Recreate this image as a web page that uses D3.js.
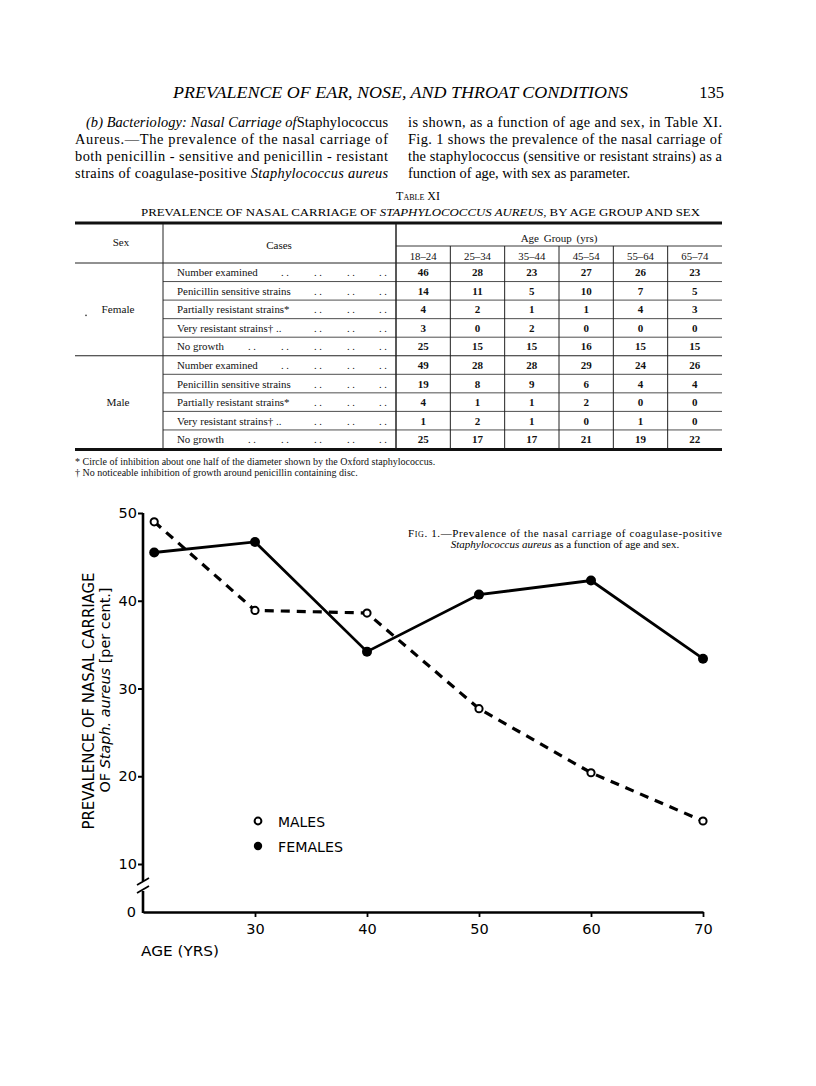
<!DOCTYPE html>
<html><head><meta charset="utf-8">
<script src="https://cdn.jsdelivr.net/npm/d3@7"></script>
<style>
html,body{margin:0;padding:0;background:#fff;}
svg{display:block;}
</style></head>
<body>
<svg id="page" width="816" height="1086"></svg>
<script>
// ---------- DATA ----------
const pageHeader = "PREVALENCE OF EAR, NOSE, AND THROAT CONDITIONS";
const pageNumber = "135";
const ageGroups = ["18–24","25–34","35–44","45–54","55–64","65–74"];
const caseLabels = ["Number examined","Penicillin sensitive strains","Partially resistant strains*","Very resistant strains† ..","No growth"];
const sexes = ["Female","Male"];
const femaleNumberExamined = [46,28,23,27,26,23];
const femaleSensitive = [14,11,5,10,7,5];
const femalePartial = [4,2,1,1,4,3];
const femaleVery = [3,0,2,0,0,0];
const femaleNoGrowth = [25,15,15,16,15,15];
const maleNumberExamined = [49,28,28,29,24,26];
const maleSensitive = [19,8,9,6,4,4];
const malePartial = [4,1,1,2,0,0];
const maleVery = [1,2,1,0,1,0];
const maleNoGrowth = [25,17,17,21,19,22];
const footnotes = ["* Circle of inhibition about one half of the diameter shown by the Oxford staphylococcus.",
                   "† No noticeable inhibition of growth around penicillin containing disc."];

const ages = [21,30,40,50,60,70];
const malesPct = [49.0,38.9,38.6,27.7,20.4,14.9];
const femalesPct = [45.5,46.7,34.2,40.7,42.3,33.4];
const xTicks = [30,40,50,60,70];
const yTicks = [10,20,30,40,50];
const legendLabels = ["MALES","FEMALES"];

// ---------- PAGE ----------
const svg = d3.select("#page");
const serif = "'Liberation Serif','Times New Roman',serif";
const sans = "'DejaVu Sans','Liberation Sans',sans-serif";

// header
svg.append("text").attr("x",173).attr("y",98).attr("font-family",serif).attr("font-style","italic")
  .attr("font-size",16.5).attr("textLength",455).attr("lengthAdjust","spacingAndGlyphs").text(pageHeader);
svg.append("text").attr("x",724).attr("y",98).attr("text-anchor","end").attr("font-family",serif)
  .attr("font-size",16.5).text(pageNumber);

// paragraphs: arrays of segments [text, italic]
const leftLines = [
  [["(b) Bacteriology: Nasal Carriage of",true],["Staphylococcus",false]],
  [["Aureus.—The prevalence of the nasal carriage of",false]],
  [["both penicillin - sensitive and penicillin - resistant",false]],
  [["strains of coagulase-positive ",false],["Staphylococcus aureus",true]]
];
const rightLines = [
  [["is shown, as a function of age and sex, in Table XI.",false]],
  [["Fig. 1 shows the prevalence of the nasal carriage of",false]],
  [["the staphylococcus (sensitive or resistant strains) as a",false]],
  [["function of age, with sex as parameter.",false]]
];
const lineY = [127,144,161,178];
function para(lines, x0, x1, lastJust, indent){
  lines.forEach((segs,i)=>{
    const xs = x0 + (i===0?indent:0);
    const t = svg.append("text").attr("x",xs).attr("y",lineY[i]).attr("font-family",serif).attr("font-size",14.4);
    segs.forEach(s=>{ t.append("tspan").attr("font-style",s[1]?"italic":"normal").text(s[0]); });
    if(i<lines.length-1 || lastJust){ t.attr("textLength",x1-xs).attr("lengthAdjust","spacing"); }
  });
}
para(leftLines,75,388,true,11);
para(rightLines,408,722,false,0);

// table title
svg.append("text").attr("x",418).attr("y",200).attr("text-anchor","middle").attr("font-family",serif)
  .attr("font-size",12).style("font-variant","small-caps").text("Table XI");
const st = svg.append("text").attr("x",141).attr("y",216).attr("font-family",serif).attr("font-size",10.5)
  .attr("textLength",559).attr("lengthAdjust","spacingAndGlyphs");
st.append("tspan").text("PREVALENCE OF NASAL CARRIAGE OF ");
st.append("tspan").attr("font-style","italic").text("STAPHYLOCOCCUS AUREUS");
st.append("tspan").text(", BY AGE GROUP AND SEX");

// table geometry
const tL=75, tR=722, colSex=163, colCases=396;
const colX = d3.scaleBand().domain(ageGroups).range([colCases,tR]);
const rowTop = 263, rowH = 18.55;
const rows = [
  {sex:0,label:caseLabels[0],vals:femaleNumberExamined},
  {sex:0,label:caseLabels[1],vals:femaleSensitive},
  {sex:0,label:caseLabels[2],vals:femalePartial},
  {sex:0,label:caseLabels[3],vals:femaleVery},
  {sex:0,label:caseLabels[4],vals:femaleNoGrowth},
  {sex:1,label:caseLabels[0],vals:maleNumberExamined},
  {sex:1,label:caseLabels[1],vals:maleSensitive},
  {sex:1,label:caseLabels[2],vals:malePartial},
  {sex:1,label:caseLabels[3],vals:maleVery},
  {sex:1,label:caseLabels[4],vals:maleNoGrowth}
];
const rowY = d3.scaleLinear().domain([0,rows.length]).range([rowTop,rowTop+rowH*rows.length]);
const tBottom = rowY(rows.length);
const tab = svg.append("g").attr("stroke","#222").attr("fill","none");
tab.append("rect").attr("x",tL).attr("y",221.5).attr("width",tR-tL).attr("height",3).attr("fill","#111").attr("stroke","none");
tab.append("rect").attr("x",tL).attr("y",tBottom-0.5).attr("width",tR-tL).attr("height",3).attr("fill","#111").attr("stroke","none");
tab.append("line").attr("x1",colSex).attr("x2",colSex).attr("y1",224).attr("y2",tBottom).attr("stroke-width",1);
tab.append("line").attr("x1",colCases).attr("x2",colCases).attr("y1",224).attr("y2",tBottom).attr("stroke-width",1.5);
tab.append("line").attr("x1",colCases).attr("x2",tR).attr("y1",246).attr("y2",246).attr("stroke-width",0.9);
tab.append("line").attr("x1",tL).attr("x2",tR).attr("y1",rowTop).attr("y2",rowTop).attr("stroke-width",1);
ageGroups.slice(1).forEach(g=>{
  tab.append("line").attr("x1",colX(g)).attr("x2",colX(g)).attr("y1",246).attr("y2",tBottom).attr("stroke-width",1);
});
rows.forEach((r,i)=>{
  if(i===0) return;
  const full = (i===5);
  tab.append("line").attr("x1",full?tL:colSex).attr("x2",tR).attr("y1",rowY(i)).attr("y2",rowY(i)).attr("stroke-width",full?1:0.8);
});
// header text
const tt = svg.append("g").attr("font-family",serif).attr("fill","#111");
tt.append("text").attr("x",121).attr("y",246).attr("text-anchor","middle").attr("font-size",11).text("Sex");
tt.append("text").attr("x",279).attr("y",249).attr("text-anchor","middle").attr("font-size",11).text("Cases");
tt.append("text").attr("x",(colCases+tR)/2).attr("y",242).attr("text-anchor","middle").attr("font-size",11).attr("word-spacing",2).text("Age Group (yrs)");
tt.selectAll(".ag").data(ageGroups).enter().append("text").attr("x",d=>colX(d)+colX.bandwidth()/2).attr("y",260)
  .attr("text-anchor","middle").attr("font-size",10.8).text(d=>d);
// sex labels
tt.append("text").attr("x",118).attr("y",(rowY(0)+rowY(5))/2+4).attr("text-anchor","middle").attr("font-size",11.2).text(sexes[0]);
tt.append("circle").attr("cx",86).attr("cy",(rowY(0)+rowY(5))/2+6).attr("r",0.8).attr("fill","#333");
tt.append("text").attr("x",118).attr("y",(rowY(5)+rowY(10))/2+4).attr("text-anchor","middle").attr("font-size",11.2).text(sexes[1]);
// rows
const dotX = [252,285,318,351,383];
rows.forEach((r,i)=>{
  const cy = rowY(i)+rowH/2+4;
  const lt = tt.append("text").attr("x",177).attr("y",cy).attr("font-size",10.9).text(r.label);
  const w = lt.node().getComputedTextLength();
  dotX.filter(d=>d>177+w+12).forEach(d=>{
    tt.append("text").attr("x",d).attr("y",cy).attr("text-anchor","middle").attr("font-size",10.5).text(". .");
  });
  r.vals.forEach((v,j)=>{
    tt.append("text").attr("x",colX(ageGroups[j])+colX.bandwidth()/2).attr("y",cy).attr("text-anchor","middle")
      .attr("font-size",11).attr("font-weight","bold").text(v);
  });
});
footnotes.forEach((f,i)=>{
  tt.append("text").attr("x",75).attr("y",465+i*11).attr("font-size",10).text(f);
});

// ---------- CHART ----------
const x = d3.scaleLinear().domain([20,70]).range([143,703]);
const y = d3.scaleLinear().domain([10,50]).range([864,513]);
const zeroY = 912, axX = x(20);
const ch = svg.append("g");

// caption
const cap1 = ch.append("text").attr("x",408).attr("y",537).attr("font-family",serif).attr("font-size",11)
  .attr("textLength",314).attr("lengthAdjust","spacing");
cap1.append("tspan").style("font-variant","small-caps").text("Fig.");
cap1.append("tspan").text(" 1.—Prevalence of the nasal carriage of coagulase-positive");
const cap2 = ch.append("text").attr("x",565).attr("y",547.5).attr("text-anchor","middle").attr("font-family",serif).attr("font-size",11);
cap2.append("tspan").attr("font-style","italic").text("Staphylococcus aureus");
cap2.append("tspan").text(" as a function of age and sex.");

// y axis (with break)
const yAxis = d3.axisLeft(y).tickValues(yTicks).tickSize(5).tickFormat(d3.format("d"));
const yg = ch.append("g").attr("transform",`translate(${axX},0)`).call(yAxis);
yg.select(".domain").remove();
yg.selectAll(".tick line").attr("stroke","#000").attr("stroke-width",2);
yg.selectAll(".tick text").attr("font-family",sans).attr("font-size",14.5).attr("x",-6).attr("fill","#000");
ch.append("line").attr("x1",axX).attr("x2",axX).attr("y1",y(50)).attr("y2",881).attr("stroke","#000").attr("stroke-width",2.6);
ch.append("line").attr("x1",axX).attr("x2",axX).attr("y1",891).attr("y2",zeroY+1).attr("stroke","#000").attr("stroke-width",2.6);
[[881],[889]].forEach(([yy])=>{
  ch.append("line").attr("x1",axX-6).attr("x2",axX+6).attr("y1",yy+4).attr("y2",yy-3).attr("stroke","#000").attr("stroke-width",1.8);
});
ch.append("text").attr("x",axX-7).attr("y",zeroY+5).attr("text-anchor","end").attr("font-family",sans).attr("font-size",14.5).text("0");

// x axis
const xAxis = d3.axisBottom(x).tickValues(xTicks).tickSize(5).tickSizeOuter(0).tickFormat(d3.format("d"));
const xg = ch.append("g").attr("transform",`translate(0,${zeroY})`).call(xAxis);
xg.select(".domain").attr("stroke","#000").attr("stroke-width",2.6);
xg.selectAll(".tick line").attr("stroke","#000").attr("stroke-width",1.8);
xg.selectAll(".tick text").attr("font-family",sans).attr("font-size",14.5).attr("y",12).attr("fill","#000");

// axis titles
ch.append("text").attr("transform",`translate(94,701) rotate(-90)`).attr("text-anchor","middle").attr("font-family",sans)
  .attr("font-size",15).attr("textLength",257).attr("lengthAdjust","spacingAndGlyphs").text("PREVALENCE OF NASAL CARRIAGE");
const yl2 = ch.append("text").attr("transform",`translate(110,690) rotate(-90)`).attr("text-anchor","middle").attr("font-family",sans)
  .attr("font-size",14).attr("textLength",205).attr("lengthAdjust","spacingAndGlyphs");
yl2.append("tspan").text("OF ");
yl2.append("tspan").attr("font-style","italic").text("Staph. aureus");
yl2.append("tspan").text(" [per cent.]");
ch.append("text").attr("x",141).attr("y",956).attr("font-family",sans).attr("font-size",14)
  .attr("textLength",78).attr("lengthAdjust","spacingAndGlyphs").text("AGE (YRS)");

// lines
const line = d3.line().x(d=>x(d[0])).y(d=>y(d[1]));
const maleData = d3.zip(ages,malesPct), femaleData = d3.zip(ages,femalesPct);
ch.append("path").datum(femaleData).attr("d",line).attr("fill","none").attr("stroke","#000").attr("stroke-width",2.8);
ch.append("path").datum(maleData).attr("d",line).attr("fill","none").attr("stroke","#000").attr("stroke-width",3.2)
  .attr("stroke-dasharray","9,7");
ch.selectAll(".fpt").data(femaleData).enter().append("circle").attr("cx",d=>x(d[0])).attr("cy",d=>y(d[1])).attr("r",5).attr("fill","#000");
ch.selectAll(".mpt").data(maleData).enter().append("circle").attr("cx",d=>x(d[0])).attr("cy",d=>y(d[1])).attr("r",3.6)
  .attr("fill","#fff").attr("stroke","#000").attr("stroke-width",2);

// legend
ch.append("circle").attr("cx",258).attr("cy",821).attr("r",3.4).attr("fill","#fff").attr("stroke","#000").attr("stroke-width",2);
ch.append("circle").attr("cx",258).attr("cy",846).attr("r",4.2).attr("fill","#000");
ch.append("text").attr("x",278).attr("y",827).attr("font-family",sans).attr("font-size",14.5).attr("textLength",47).attr("lengthAdjust","spacingAndGlyphs").text(legendLabels[0]);
ch.append("text").attr("x",278).attr("y",852).attr("font-family",sans).attr("font-size",14.5).attr("textLength",65).attr("lengthAdjust","spacingAndGlyphs").text(legendLabels[1]);
</script>
</body></html>
